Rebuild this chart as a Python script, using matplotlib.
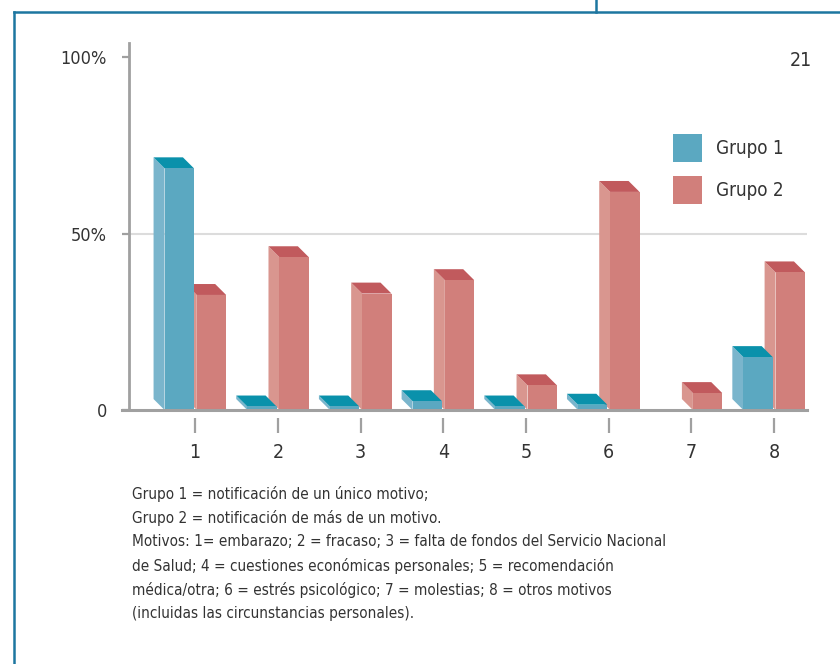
import matplotlib
matplotlib.use('Agg')
import matplotlib.pyplot as plt
from matplotlib.patches import Polygon, Patch
from matplotlib.lines import Line2D

# datos (%)
motivos = [1, 2, 3, 4, 5, 6, 7, 8]
grupo1 = [68.5, 1.0, 1.0, 2.5, 1.0, 1.5, 0.0, 15.0]
grupo2 = [32.6, 43.3, 33.0, 36.8, 7.0, 61.8, 4.8, 39.0]
ytick_vals = [0, 50, 100]
ytick_labels = ['0', '50%', '100%']
nota = ("Grupo 1 = notificación de un único motivo;\n"
        "Grupo 2 = notificación de más de un motivo.\n"
        "Motivos: 1= embarazo; 2 = fracaso; 3 = falta de fondos del Servicio Nacional\n"
        "de Salud; 4 = cuestiones económicas personales; 5 = recomendación\n"
        "médica/otra; 6 = estrés psicológico; 7 = molestias; 8 = otros motivos\n"
        "(incluidas las circunstancias personales).")

plt.rcParams['font.family'] = ['DejaVu Sans']
plt.rcParams['font.stretch'] = 'condensed'

# colores: frente, lado, tapa
col1 = ('#5ba8c1', '#7ab5cc', '#0a91ab')
col2 = ('#d17f7b', '#d9968f', '#c15a5d')

W, H = 840, 664
fig = plt.figure(figsize=(8.4, 6.64), dpi=100)
ax = fig.add_axes([129 / W, 1 - 410 / H, (807 - 129) / W, (410 - 43) / H])
ax.set_xlim(0.2, 8.4)
ax.set_ylim(0, 104)

ancho = 0.355
dx = 0.133   # profundidad en x (unidades de datos)
dy = 3.1     # profundidad en y


def barra3d(x0, v, cols, z):
    if v <= 0:
        return
    x1 = x0 + ancho
    ax.add_patch(Polygon([(x0, 0), (x0, v), (x0 - dx, v + dy), (x0 - dx, dy)],
                         closed=True, facecolor=cols[1], edgecolor='none', zorder=z))
    ax.add_patch(Polygon([(x0, v), (x1, v), (x1 - dx, v + dy), (x0 - dx, v + dy)],
                         closed=True, facecolor=cols[2], edgecolor='none', zorder=z))
    ax.bar(x0, v, width=ancho, align='edge', color=cols[0], zorder=z)


ax.axhline(50, color='#dcdcdc', lw=1.5, zorder=1)
for i, m in enumerate(motivos):
    barra3d(m + 0.02, grupo2[i], col2, 2 + i * 0.1)
    barra3d(m - 0.37, grupo1[i], col1, 2.05 + i * 0.1)

ax.axhline(0, xmin=-0.01, xmax=1, color='#a0a0a0', lw=2.2, zorder=5, clip_on=False)

for s in ['top', 'right']:
    ax.spines[s].set_visible(False)
ax.spines['bottom'].set_visible(False)
ax.spines['bottom'].set_position(('outward', 6))
ax.spines['left'].set_color('#a0a0a0')
ax.spines['left'].set_linewidth(2)
ax.spines['left'].set_bounds(0, 104)

ax.set_yticks(ytick_vals)
ax.set_yticklabels(ytick_labels)
ax.set_xticks(motivos)
ax.set_xticklabels([str(m) for m in motivos])
ax.tick_params(axis='y', length=5, width=1.6, color='#a0a0a0', pad=11,
               labelsize=13, labelcolor='#333333')
ax.tick_params(axis='x', length=11, width=1.6, color='#a0a0a0', pad=7,
               labelsize=14, labelcolor='#333333')

handles = [Patch(facecolor=col1[0], edgecolor='none'),
           Patch(facecolor=col2[0], edgecolor='none')]
fig.legend(handles, ['Grupo 1', 'Grupo 2'], loc='upper left',
           bbox_to_anchor=(673 / W, 1 - 134 / H), frameon=False, fontsize=13.5,
           borderpad=0, borderaxespad=0,
           handlelength=1.55, handleheight=1.95, handletextpad=0.75,
           labelspacing=0.72, labelcolor='#333333')

fig.text(801 / W, 1 - 61 / H, '21', fontsize=14, color='#333333',
         ha='center', va='center')
fig.text(132 / W, 1 - 486 / H, nota, fontsize=11, color='#333333',
         ha='left', va='top', linespacing=1.65)

# marco
azul = '#1d76a0'
fig.add_artist(Line2D([14 / W, 14 / W], [0, 1 - 12 / H], color=azul, lw=1.8))
fig.add_artist(Line2D([14 / W, 1], [1 - 12 / H, 1 - 12 / H], color=azul, lw=1.8))
fig.add_artist(Line2D([596 / W, 596 / W], [1 - 12 / H, 1], color=azul, lw=1.8))

fig.savefig('out.png', dpi=100)
